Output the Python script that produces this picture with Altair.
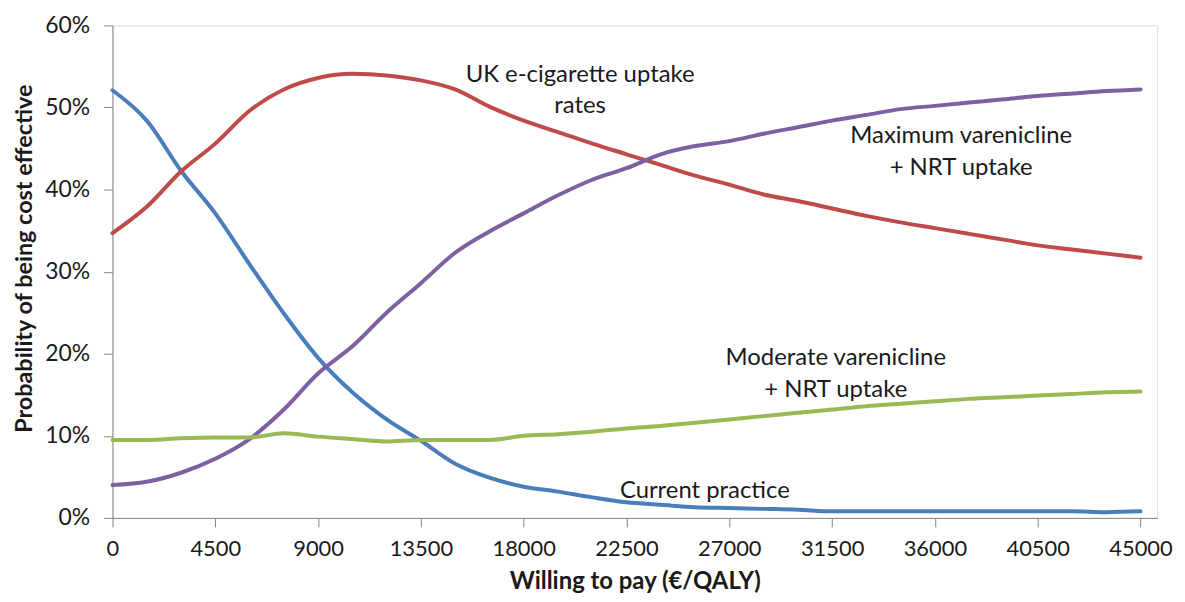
import altair as alt
import pandas as pd

# Willingness-to-pay grid (€/QALY)
wtp = [0, 1500, 3000, 4500, 6000, 7500, 9000, 10500, 12000, 13500, 15000,
       16500, 18000, 19500, 21000, 22500, 24000, 25500, 27000, 28500, 30000,
       31500, 33000, 34500, 36000, 37500, 39000, 40500, 42000, 43500, 45000]

# Probability of being cost effective (%)
current_practice = [52.1, 48.4, 42.3, 37.1, 30.9, 24.9, 19.5, 15.3, 12.0, 9.4, 6.6,
                    4.9, 3.8, 3.2, 2.5, 1.9, 1.6, 1.3, 1.2, 1.1, 1.0,
                    0.8, 0.8, 0.8, 0.8, 0.8, 0.8, 0.8, 0.8, 0.7, 0.8]
uk_ecig = [34.7, 37.9, 42.2, 45.6, 49.6, 52.2, 53.6, 54.1, 53.9, 53.3, 52.2,
           50.1, 48.4, 47.0, 45.6, 44.3, 43.0, 41.7, 40.6, 39.4, 38.6,
           37.7, 36.8, 36.0, 35.3, 34.6, 33.9, 33.2, 32.7, 32.2, 31.7]
max_varenicline = [4.0, 4.4, 5.5, 7.2, 9.6, 13.2, 17.6, 20.9, 25.0, 28.6, 32.3,
                   34.9, 37.1, 39.3, 41.2, 42.6, 44.3, 45.3, 45.9, 46.8, 47.6,
                   48.4, 49.1, 49.8, 50.2, 50.6, 51.0, 51.4, 51.7, 52.0, 52.2]
moderate_varenicline = [9.5, 9.5, 9.7, 9.8, 9.8, 10.3, 9.9, 9.6, 9.3, 9.5, 9.5,
                        9.5, 10.0, 10.2, 10.5, 10.9, 11.2, 11.6, 12.0, 12.4, 12.8,
                        13.2, 13.6, 13.9, 14.2, 14.5, 14.7, 14.9, 15.1, 15.3, 15.4]

series_names = ["Current practice", "UK e-cigarette uptake rates",
                "Maximum varenicline + NRT uptake", "Moderate varenicline + NRT uptake"]
series_values = [current_practice, uk_ecig, max_varenicline, moderate_varenicline]
series_colors = ["#4A7EBB", "#BE4B48", "#7D60A0", "#98B954"]

x_ticks = [0, 4500, 9000, 13500, 18000, 22500, 27000, 31500, 36000, 40500, 45000]
y_ticks = [0, 10, 20, 30, 40, 50, 60]

# In-chart labels
label_text = ["UK e-cigarette uptake", "rates", "Maximum varenicline", "+ NRT uptake",
              "Moderate varenicline", "+ NRT uptake", "Current practice"]
label_x = [20470, 20470, 37150, 37150, 31660, 31660, 25930]
label_y = [54.0, 50.2, 46.5, 42.6, 19.45, 15.6, 3.3]

rows = []
for name, vals in zip(series_names, series_values):
    for x, v in zip(wtp, vals):
        rows.append({"series": name, "wtp": x, "prob": v})
df = pd.DataFrame(rows)
labels = pd.DataFrame({"text": label_text, "x": label_x, "y": label_y})

FONT = "Lato"
xscale = alt.Scale(domain=[0, 45726], nice=False, zero=False)
yscale = alt.Scale(domain=[0, 60], nice=False)

lines = alt.Chart(df).mark_line(strokeWidth=4, strokeCap="round", strokeJoin="round",
                                interpolate="monotone").encode(
    x=alt.X("wtp:Q", scale=xscale,
            axis=alt.Axis(title="Willing to pay (€/QALY)", values=x_ticks, grid=False,
                          format="d",
                          domainColor="#868686", tickColor="#868686", tickSize=9,
                          labelFont=FONT, labelFontSize=22, labelColor="#1a1a1a",
                          labelPadding=12, labelFlush=False, labelOverlap=False,
                          titleFont=FONT, titleFontSize=24, titleFontWeight="bold",
                          titleColor="#1a1a1a", titleY=71, titleBaseline="alphabetic",
                          titleAlign="center")),
    y=alt.Y("prob:Q", scale=yscale,
            axis=alt.Axis(title="Probability of being cost effective", values=y_ticks,
                          grid=False, labelExpr="datum.value + '%'",
                          domainColor="#868686", tickColor="#868686", tickSize=9,
                          labelFont=FONT, labelFontSize=23, labelColor="#1a1a1a",
                          labelPadding=14, labelFlush=False,
                          titleFont=FONT, titleFontSize=23.5, titleFontWeight="bold",
                          titleColor="#1a1a1a", titleX=-88, titleY=234,
                          titleBaseline="middle", titleAlign="center", titleAngle=270)),
    color=alt.Color("series:N", scale=alt.Scale(domain=series_names, range=series_colors),
                    legend=None),
    detail="series:N",
)

text = alt.Chart(labels).mark_text(font=FONT, fontSize=24, color="#1a1a1a",
                                   align="center", baseline="middle").encode(
    x=alt.X("x:Q", scale=xscale),
    y=alt.Y("y:Q", scale=yscale),
    text="text:N",
)

chart = alt.layer(lines, text).properties(
    width=1050, height=495,
    autosize=alt.AutoSizeParams(type="none"),
    padding={"left": 105, "top": 16, "right": 20, "bottom": 78},
).configure_view(stroke=None).configure(background="white")

chart.save("out.html", embed_options={"renderer": "svg", "actions": False})
